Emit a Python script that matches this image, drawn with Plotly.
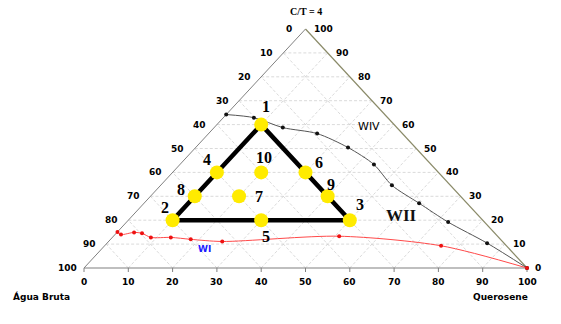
import plotly.graph_objects as go

# ---------------- data (ternary %: top = C/T, quer = Querosene) ----------------
pt_labels = ["1", "2", "3", "4", "5", "6", "7", "8", "9", "10"]
pt_top = [60, 20, 20, 40, 20, 40, 30, 30, 30, 40]
pt_quer = [10, 10, 50, 10, 30, 30, 20, 10, 40, 20]
# label offsets in pixels (dx, dy screen; dy positive = down)
lab_dx = [5, -8, 10, -10, 5, 13, 20, -14, 3, 3]
lab_dy = [-18, -13, -16, -13, 16, -10, 0, -7, -12, -15]

tri_labels = ["1", "2", "3", "1"]

wiv_top = [64.2, 62.9, 58.75, 56.25, 50.4, 43.3, 34.6, 27.1, 19.2, 10.4, 0]
wiv_quer = [0, 6.9, 15.5, 24.5, 34.4, 43.8, 52.2, 62.1, 72.6, 85.8, 100]

wi_top = [15.1, 14.0, 14.9, 14.5, 12.8, 12.8, 12.0, 11.1, 13.3, 9.3, 0]
wi_quer = [0, 1.35, 3.85, 5.85, 8.7, 13.2, 18.1, 25.65, 50.95, 75.95, 100]

tick_vals = [0, 10, 20, 30, 40, 50, 60, 70, 80, 90, 100]
grid_vals = [10, 20, 30, 40, 50, 60, 70, 80, 90]

title_text = "C/T = 4"
left_title = "Água Bruta"
right_title = "Querosene"

# ---------------- geometry ----------------
W, H = 561, 324
X0, X1 = 84.0, 527.0      # px of bottom-left / bottom-right vertex
Y0, YT = 268.0, 29.0      # px of bottom / apex
SX = (X1 - X0) / 100.0
SY = (Y0 - YT) / 100.0


def tx(top, quer):
    return quer + top / 2.0


def ty(top, quer):
    return top


px_x = lambda dx: dx / SX
px_y = lambda dy: dy / SY

fig = go.Figure()

# grid
gx, gy = [], []
for k in grid_vals:
    # horizontal (constant top)
    gx += [tx(k, 0), tx(k, 100 - k), None]
    gy += [k, k, None]
    # constant querosene
    gx += [tx(0, k), tx(100 - k, k), None]
    gy += [0, 100 - k, None]
    # constant agua
    gx += [tx(0, 100 - k), tx(100 - k, 0), None]
    gy += [0, 100 - k, None]
fig.add_trace(go.Scatter(x=gx, y=gy, mode="lines",
                         line=dict(color="#d0d0d0", width=0.8, dash="3px,2px"),
                         hoverinfo="skip", showlegend=False))

# edges
fig.add_trace(go.Scatter(x=[tx(0, 0), tx(100, 0)], y=[0, 100], mode="lines",
                         line=dict(color="#808080", width=1), showlegend=False))
fig.add_trace(go.Scatter(x=[tx(100, 0), tx(0, 100)], y=[100, 0], mode="lines",
                         line=dict(color="#8a8a68", width=1.2), showlegend=False))
fig.add_trace(go.Scatter(x=[tx(0, 0), tx(0, 100)], y=[0, 0], mode="lines",
                         line=dict(color="#808080", width=1.2), showlegend=False))

# bottom tick marks
tkx, tky = [], []
for v in tick_vals:
    tkx += [v, v, None]
    tky += [0, -px_y(4), None]
fig.add_trace(go.Scatter(x=tkx, y=tky, mode="lines",
                         line=dict(color="#808080", width=1), showlegend=False))

# WIV curve
fig.add_trace(go.Scatter(x=[tx(t, q) for t, q in zip(wiv_top, wiv_quer)],
                         y=[ty(t, q) for t, q in zip(wiv_top, wiv_quer)],
                         mode="lines+markers",
                         line=dict(color="#555555", width=1, shape="spline", smoothing=0.8),
                         marker=dict(color="#111111", size=4), showlegend=False))

# WI curve
fig.add_trace(go.Scatter(x=[tx(t, q) for t, q in zip(wi_top, wi_quer)],
                         y=[ty(t, q) for t, q in zip(wi_top, wi_quer)],
                         mode="lines+markers",
                         line=dict(color="#ff4a4a", width=1, shape="spline", smoothing=0.8),
                         marker=dict(color="#ee1111", size=4), showlegend=False))

# black triangle 1-2-3
idx = [pt_labels.index(s) for s in tri_labels]
fig.add_trace(go.Scatter(x=[tx(pt_top[i], pt_quer[i]) for i in idx],
                         y=[ty(pt_top[i], pt_quer[i]) for i in idx],
                         mode="lines", line=dict(color="black", width=4.5),
                         showlegend=False))

# experimental points
fig.add_trace(go.Scatter(x=[tx(t, q) for t, q in zip(pt_top, pt_quer)],
                         y=[ty(t, q) for t, q in zip(pt_top, pt_quer)],
                         mode="markers",
                         marker=dict(color="#ffeb00", size=14, line=dict(width=0)),
                         showlegend=False))

ann = []
serif = "Liberation Serif, Times New Roman, serif"
sans = "DejaVu Sans, sans-serif"
for lab, t, q, dx, dy in zip(pt_labels, pt_top, pt_quer, lab_dx, lab_dy):
    ann.append(dict(x=tx(t, q), y=ty(t, q), text=lab, showarrow=False,
                    xshift=dx, yshift=-dy,
                    font=dict(family=serif, size=16, color="black", weight="bold")))

tick_font = dict(family=sans, size=9, color="black", weight="bold")
for v in tick_vals:
    # bottom
    ann.append(dict(x=v, y=-px_y(14), text=str(v), showarrow=False, font=tick_font))
    # left (Água Bruta values along left edge)
    ann.append(dict(x=tx(v, 0) - px_x(17), y=v, text=str(100 - v), showarrow=False,
                    font=tick_font))
    # right
    ann.append(dict(x=tx(v, 100 - v) + px_x(6), y=v, text=str(v), showarrow=False,
                    xanchor="left", font=tick_font))

ann.append(dict(x=50 + px_x(0.5), y=100 + px_y(18), text=title_text, showarrow=False,
                font=dict(family=serif, size=10, color="black", weight="bold")))
ann.append(dict(x=-px_x(43), y=-px_y(28), text=left_title, showarrow=False,
                font=dict(family=sans, size=9, color="black", weight="bold")))
ann.append(dict(x=100 - px_x(27), y=-px_y(29), text=right_title, showarrow=False,
                font=dict(family=sans, size=9, color="black", weight="bold")))
ann.append(dict(x=tx(wiv_top[3], wiv_quer[3]) + px_x(52), y=wiv_top[3] - px_y(-7),
                text="WIV", showarrow=False,
                font=dict(family=sans, size=11, color="black")))
ann.append(dict(x=tx(20, 50) + px_x(52), y=20 - px_y(-5), text="WII", showarrow=False,
                font=dict(family=serif, size=17, color="#111111", weight="bold")))
ann.append(dict(x=tx(wi_top[7], wi_quer[7]) - px_x(18), y=wi_top[7] - px_y(8),
                text="WI", showarrow=False,
                font=dict(family=sans, size=9, color="#1a1aff", weight="bold")))

fig.update_layout(
    width=W, height=H, autosize=False,
    margin=dict(l=0, r=0, t=0, b=0),
    paper_bgcolor="white", plot_bgcolor="white",
    xaxis=dict(range=[-X0 / SX, (W - X0) / SX], visible=False, fixedrange=True),
    yaxis=dict(range=[-(H - Y0) / SY, Y0 / SY], visible=False, fixedrange=True),
    annotations=ann,
    showlegend=False,
)

fig.write_html("out.html")
